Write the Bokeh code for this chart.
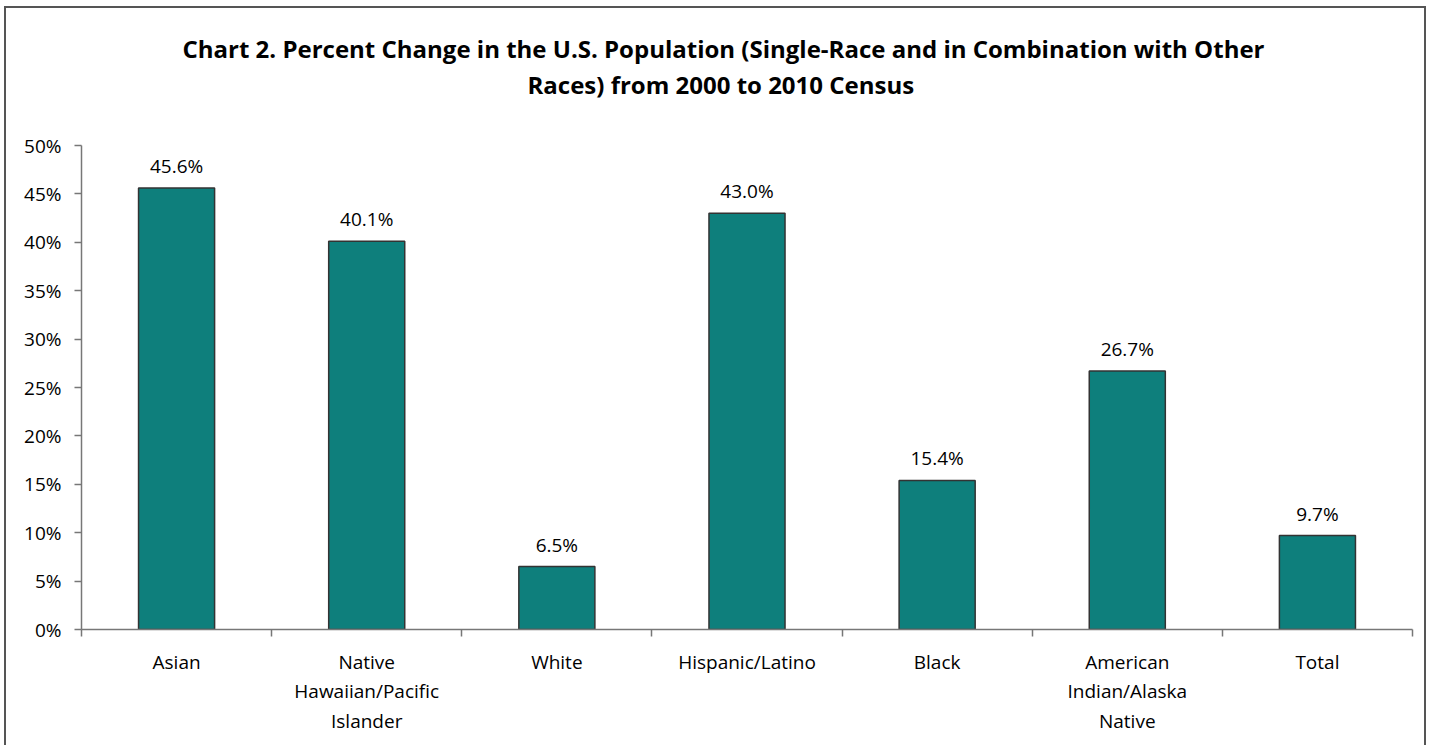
from bokeh.plotting import figure
from bokeh.models import Range1d, FixedTicker, PrintfTickFormatter, ColumnDataSource, Title, LinearAxis
from bokeh.core.properties import value
from bokeh.embed import file_html
from bokeh.resources import INLINE

title_lines = ["Chart 2. Percent Change in the U.S. Population (Single-Race and in Combination with Other",
               "Races) from 2000 to 2010 Census"]
categories = ["Asian", "Native\nHawaiian/Pacific\nIslander", "White", "Hispanic/Latino",
              "Black", "American\nIndian/Alaska\nNative", "Total"]
values = [45.6, 40.1, 6.5, 43.0, 15.4, 26.7, 9.7]
y_ticks = [0, 5, 10, 15, 20, 25, 30, 35, 40, 45, 50]

FONT = "Open Sans"
BAR = "#0E7F7C"
TXT = "#000000"

n = len(categories)
centers = [i + 0.5 for i in range(n)]
bounds = [i for i in range(n + 1)]

src = ColumnDataSource(dict(x=centers, top=values, lab=[f"{v:.1f}%" for v in values]))

p = figure(width=1422, height=739, output_backend="svg", toolbar_location=None,
           x_range=Range1d(0, n), y_range=Range1d(0, y_ticks[-1]), title=None,
           min_border_left=75, min_border_right=16, min_border_top=137, min_border_bottom=118)
p.outline_line_color = None
p.grid.visible = False
p.styles = {"border-left": "2px solid #555", "border-top": "2px solid #555",
            "border-right": "2px solid #555", "margin-left": "4px", "margin-top": "6px"}

p.vbar(x="x", top="top", width=0.4, bottom=0, source=src, fill_color=BAR,
       line_color="#333333", line_width=1.5)
p.text(x="x", y="top", text="lab", source=src, text_align="center", text_baseline="bottom",
       y_offset=-9, text_font=value(FONT), text_font_size="19px", text_color=TXT)

ax = p.below[0]
ax.ticker = FixedTicker(ticks=centers, minor_ticks=bounds)
ax.major_label_overrides = {c: lab for c, lab in zip(centers, categories)}
ax.major_tick_out = 0
ax.major_tick_in = 0
ax.minor_tick_out = 7
ax.minor_tick_in = 0
ax.major_label_standoff = 12
ax.major_label_text_font = FONT
ax.major_label_text_font_size = "19px"
ax.major_label_text_line_height = 1.15
ax.major_label_text_color = TXT
ax.axis_line_color = "#777777"
ax.axis_line_width = 1.5
ax.minor_tick_line_color = "#777777"
ax.minor_tick_line_width = 1.5

ay = p.left[0]
ay.ticker = FixedTicker(ticks=y_ticks, minor_ticks=[])
ay.formatter = PrintfTickFormatter(format="%d%%")
ay.major_tick_out = 7
ay.major_tick_in = 0
ay.major_label_standoff = 13
ay.major_label_text_font = FONT
ay.major_label_text_font_size = "19px"
ay.major_label_text_color = TXT
ay.axis_line_color = "#777777"
ay.axis_line_width = 1.5
ay.major_tick_line_color = "#777777"
ay.major_tick_line_width = 1.5

# invisible spacer axis between the plot frame and the two title lines
spacer = LinearAxis(ticker=FixedTicker(ticks=[0], minor_ticks=[]), axis_line_color=None,
                    major_tick_line_color=None, minor_tick_line_color=None,
                    major_label_overrides={0: ""}, major_label_text_font_size="1px",
                    major_tick_out=45, major_tick_in=0, minor_tick_out=0, minor_tick_in=0,
                    major_label_standoff=0)
p.add_layout(spacer, "above")
p.add_layout(Title(text=title_lines[1], align="left", offset=446, text_font=FONT,
                   text_font_style="bold", text_font_size="24px", text_color=TXT,
                   standoff=0), "above")
p.add_layout(Title(text=title_lines[0], align="left", offset=101, text_font=FONT,
                   text_font_style="bold", text_font_size="24px", text_color=TXT,
                   standoff=2), "above")

open("out.html", "w").write(file_html(p, INLINE))
